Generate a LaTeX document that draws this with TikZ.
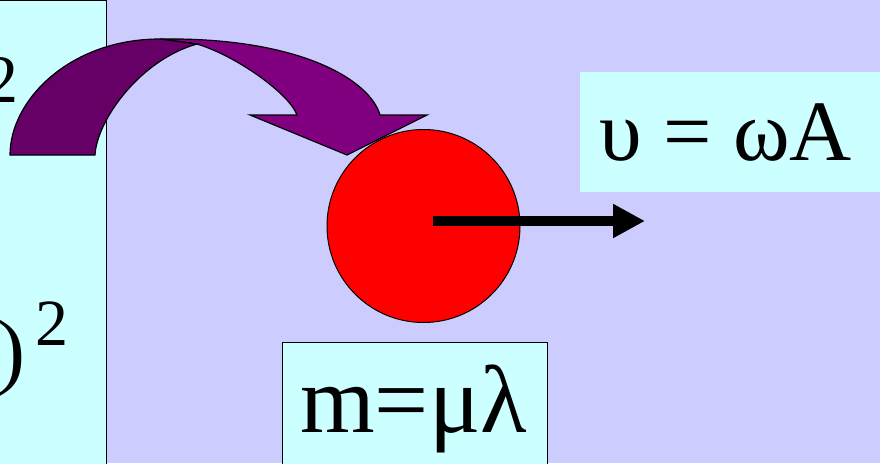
\documentclass[tikz,border=0pt]{standalone}
\usepackage{fontspec}
\setmainfont{Liberation Serif}
\usetikzlibrary{arrows.meta}
\definecolor{bg}{HTML}{CCCCFF}
\definecolor{paleblue}{HTML}{CCFFFF}
\definecolor{darkplum}{HTML}{660066}
\definecolor{plum}{HTML}{800080}
\tikzset{
  panel/.style={fill=paleblue},
  bandpart/.style={draw=black, line width=1.2pt, line join=miter},
  formula/.style={inner sep=0pt, text=black},
}
\begin{document}
\begin{tikzpicture}[x=1pt,y=-1pt]
\useasboundingbox (0,0) rectangle (880,463);
\fill[bg] (0,0) rectangle (880,463);
% left panel
\begin{scope}
\clip (0,0) rectangle (880,463);
\draw[panel, draw=black, line width=1pt] (-5,0.5) rectangle (106,470);
\node[formula, anchor=base east, font=\fontsize{68}{72}\selectfont] (topsq) at (19,102) {2};
\node[formula, anchor=base east, font=\fontsize{84}{90}\selectfont] (paren) at (26,378) {)};
\node[formula, anchor=base west, font=\fontsize{66}{70}\selectfont] (botsq) at (35,345) {2};
% right top box
\node[panel, minimum width=320pt, minimum height=120pt, anchor=north west, inner sep=0pt] (vbox) at (580,72) {};
\node[formula, anchor=base west, font=\fontsize{86}{90}\selectfont] (vtext) at (599,160) {υ = ωA};
% mass box
\draw[panel, draw=black, line width=1pt] (282,342) rectangle (547,475);
\node[formula, anchor=base west, font=\fontsize{96}{100}\selectfont] (mtext) at (300,432) {m=μλ};
\end{scope}
% curved arrow, light front part
\draw[bandpart, fill=plum] (160,39) .. controls (300,37) and (370,80) .. (380,115)
  -- (427,115) -- (347,155) -- (250,115) -- (297,115)
  .. controls (290,95) and (239,57) .. (197,44) -- cycle;
% dark back part
\draw[bandpart, fill=darkplum] (10,155) .. controls (10,100) and (70,39) .. (160,39)
  -- (197,44) .. controls (140,60) and (97,120) .. (95,155) -- cycle;
% ball
\node[circle, fill=red, draw=black, line width=1pt, minimum size=193pt, inner sep=0pt] (ball) at (423.5,226) {};
\coordinate (vstart) at (433,221);
\coordinate (vend) at (645,221);
\draw[line width=10pt, -{Triangle[length=32pt,width=32pt]}] (vstart) -- (vend);
\end{tikzpicture}
\end{document}
